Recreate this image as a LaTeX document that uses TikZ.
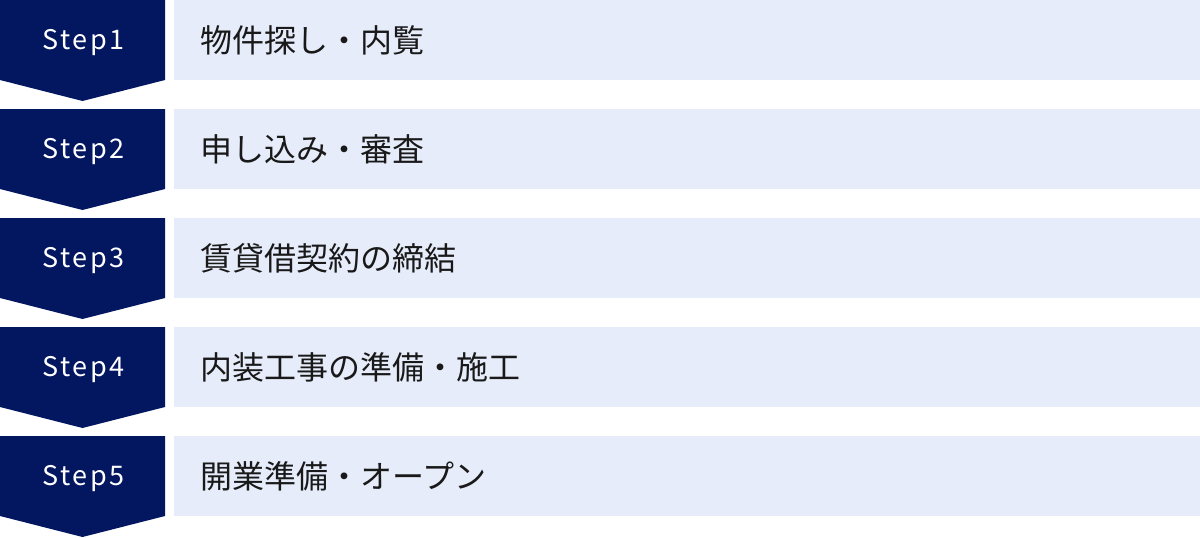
\documentclass[tikz,border=0pt]{standalone}
\usepackage{fontspec}
\setmainfont{Noto Sans CJK JP}
\newfontfamily\stepfont[LetterSpace=10]{Noto Sans CJK JP}
\definecolor{navy}{RGB}{3,22,96}
\definecolor{pale}{RGB}{230,236,249}
\begin{document}
\begin{tikzpicture}[x=1pt,y=-1pt,
  stepshape/.style={fill=navy,draw=none},
  steplabel/.style={text=white,font=\stepfont\fontsize{27}{27}\selectfont,anchor=center,inner sep=0pt},
  barbox/.style={fill=pale,draw=none},
  bartext/.style={text=black!90,font=\fontsize{32}{32}\selectfont,anchor=west,inner sep=0pt}]
\useasboundingbox (0,0) rectangle (1200,538);
\foreach \i/\t [count=\n from 0] in {1/物件探し・内覧,2/申し込み・審査,3/賃貸借契約の締結,4/内装工事の準備・施工,5/開業準備・オープン}{
  \pgfmathsetmacro{\y}{109*\n}
  \fill[stepshape] (0,\y) -- (165,\y) -- (165,\y+80) -- (82.5,\y+101) -- (0,\y+80) -- cycle;
  \node[steplabel] (s\i) at (83.5,\y+43) {Step\i};
  \fill[barbox] (174,\y) rectangle (1200,\y+80);
  \node[bartext] (t\i) at (200,\y+40) {\t};
}
\end{tikzpicture}
\end{document}
